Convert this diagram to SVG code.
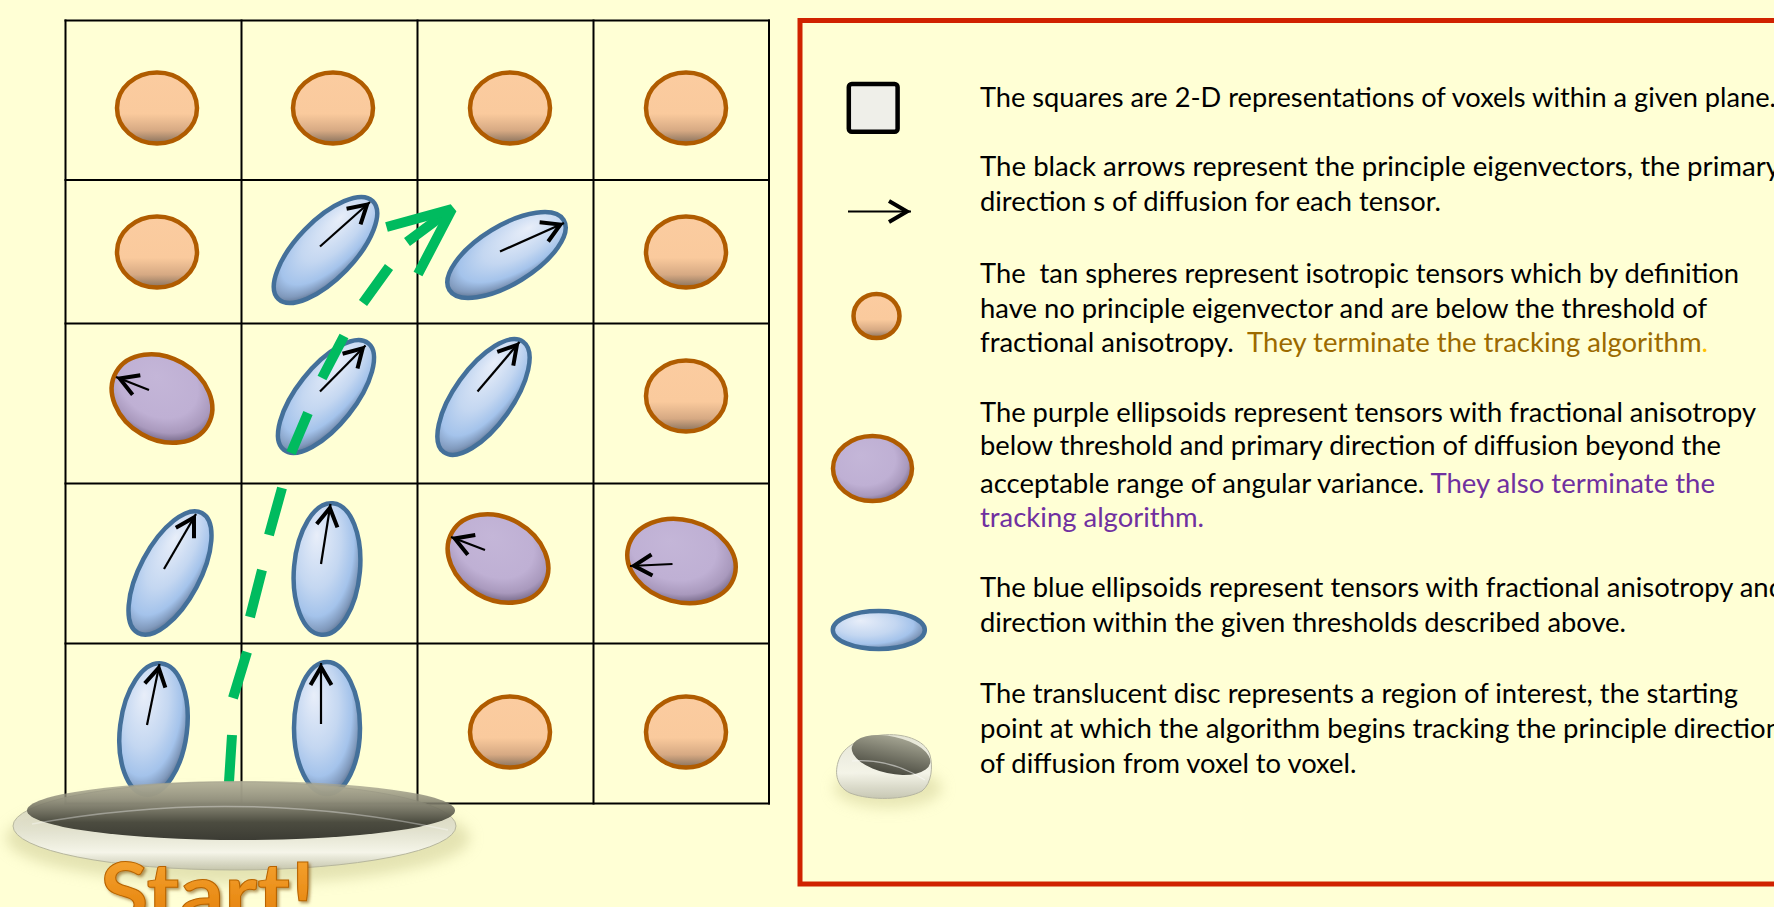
<svg xmlns="http://www.w3.org/2000/svg" width="1774" height="907" viewBox="0 0 1774 907">
  <defs>
    <style>
      .grid line { stroke: #000; stroke-width: 2; }
      .tan { fill: url(#gTan); stroke: #B05C00; stroke-width: 4.5; }
      .pur { fill: url(#gPur); stroke: #B05C00; stroke-width: 4.5; }
      .blu { fill: url(#gBlu); stroke: #44709A; stroke-width: 4.5; }
      .vec { stroke: #000; stroke-width: 2.2; fill: none; marker-end: url(#head); }
      .trk { fill: none; stroke: #00BB5F; stroke-width: 10; stroke-linecap: butt; }
      .txt { font-family: Lato, "Liberation Sans", sans-serif; font-size: 27px; fill: #000; }
      .gold { fill: #9C6A00; }
      .purple { fill: #7030A0; }
    </style>
    <linearGradient id="gTan" x1="0" y1="0" x2="0" y2="1">
      <stop offset="0" stop-color="#FBCCA0"/>
      <stop offset="0.58" stop-color="#FACA9D"/>
      <stop offset="0.82" stop-color="#D6A983"/>
      <stop offset="1" stop-color="#86705C"/>
    </linearGradient>
    <radialGradient id="gBlu" cx="0.4" cy="0.4" r="0.66" fx="0.3" fy="0.25">
      <stop offset="0" stop-color="#E8EEF9"/>
      <stop offset="0.5" stop-color="#C4D7F1"/>
      <stop offset="0.76" stop-color="#A4C3EB"/>
      <stop offset="0.9" stop-color="#8099BC"/>
      <stop offset="1" stop-color="#566A86"/>
    </radialGradient>
    <radialGradient id="gPur" cx="0.42" cy="0.4" r="0.64" fx="0.35" fy="0.3">
      <stop offset="0" stop-color="#C4B6D8"/>
      <stop offset="0.62" stop-color="#BFB0D4"/>
      <stop offset="0.84" stop-color="#A999BD"/>
      <stop offset="1" stop-color="#6F6280"/>
    </radialGradient>
    <linearGradient id="gRim" x1="0" y1="0" x2="0" y2="1">
      <stop offset="0" stop-color="#C8C6A8" stop-opacity="0.8"/>
      <stop offset="0.55" stop-color="#E2E2D0"/>
      <stop offset="0.8" stop-color="#F6F6EC"/>
      <stop offset="1" stop-color="#C4C4AC"/>
    </linearGradient>
    <linearGradient id="gTop" x1="0" y1="0" x2="0" y2="1">
      <stop offset="0" stop-color="#ABA892" stop-opacity="0.72"/>
      <stop offset="0.3" stop-color="#8C8A78" stop-opacity="0.85"/>
      <stop offset="0.7" stop-color="#4C4C40"/>
      <stop offset="1" stop-color="#3C3C34"/>
    </linearGradient>
    <linearGradient id="gStart" x1="0" y1="0" x2="0" y2="1">
      <stop offset="0" stop-color="#F8AA38"/>
      <stop offset="1" stop-color="#E07800"/>
    </linearGradient>
    <linearGradient id="gPuck" x1="0" y1="0" x2="0" y2="1">
      <stop offset="0" stop-color="#E4E4D6"/>
      <stop offset="0.6" stop-color="#F4F4EA"/>
      <stop offset="1" stop-color="#C6C6B4"/>
    </linearGradient>
    <linearGradient id="gPuckTop" x1="0" y1="0" x2="0" y2="1">
      <stop offset="0" stop-color="#A2A290"/>
      <stop offset="1" stop-color="#4A4A40"/>
    </linearGradient>
    <filter id="soft" x="-20%" y="-50%" width="140%" height="200%">
      <feGaussianBlur stdDeviation="7"/>
    </filter>
    <filter id="shade" x="-10%" y="-10%" width="130%" height="130%">
      <feDropShadow dx="2" dy="2" stdDeviation="1.5" flood-color="#7A4A00" flood-opacity="0.55"/>
    </filter>
    <marker id="head" viewBox="0 0 28 24" markerWidth="28" markerHeight="24" refX="25" refY="12" orient="auto" markerUnits="userSpaceOnUse" style="overflow:visible">
      <path d="M3,1.5 L21,12 L3,22.5" fill="none" stroke="#000" stroke-width="4"/>
    </marker>
  </defs>

  <rect width="1774" height="907" fill="#FFFFD5"/>

  <!-- voxel grid -->
  <g id="grid" class="grid">
    <line x1="65.5" y1="19.5" x2="65.5" y2="804.5"/>
    <line x1="241.5" y1="19.5" x2="241.5" y2="804.5"/>
    <line x1="417.5" y1="19.5" x2="417.5" y2="804.5"/>
    <line x1="593.5" y1="19.5" x2="593.5" y2="804.5"/>
    <line x1="769" y1="19.5" x2="769" y2="804.5"/>
    <line x1="64.5" y1="20.5" x2="770" y2="20.5"/>
    <line x1="64.5" y1="180" x2="770" y2="180"/>
    <line x1="64.5" y1="323.5" x2="770" y2="323.5"/>
    <line x1="64.5" y1="483.5" x2="770" y2="483.5"/>
    <line x1="64.5" y1="643.5" x2="770" y2="643.5"/>
    <line x1="64.5" y1="803.5" x2="770" y2="803.5"/>
  </g>

  <!-- row 1 -->
  <g id="r1c1"><ellipse class="tan" cx="157" cy="108" rx="40" ry="35.5"/></g>
  <g id="r1c2"><ellipse class="tan" cx="333" cy="108" rx="40" ry="35.5"/></g>
  <g id="r1c3"><ellipse class="tan" cx="510" cy="108" rx="40" ry="35.5"/></g>
  <g id="r1c4"><ellipse class="tan" cx="686" cy="108" rx="40" ry="35.5"/></g>

  <!-- row 2 -->
  <g id="r2c1"><ellipse class="tan" cx="157" cy="252" rx="40" ry="35.5"/></g>
  <g id="r2c2">
    <ellipse class="blu" cx="0" cy="0" rx="29" ry="68" transform="translate(325.5 250) rotate(44)"/>
    <line class="vec" x1="320" y1="246.5" x2="370" y2="202"/>
  </g>
  <g id="r2c3">
    <ellipse class="blu" cx="0" cy="0" rx="29" ry="67" transform="translate(506.5 255) rotate(58.5)"/>
    <line class="vec" x1="500" y1="251.5" x2="564" y2="223"/>
  </g>
  <g id="r2c4"><ellipse class="tan" cx="686" cy="252" rx="40" ry="35.5"/></g>

  <!-- row 3 -->
  <g id="r3c1">
    <ellipse class="pur" cx="0" cy="0" rx="53" ry="41" transform="translate(162 398.5) rotate(30)"/>
    <line class="vec" x1="149" y1="390" x2="116" y2="377"/>
  </g>
  <g id="r3c2">
    <ellipse class="blu" cx="0" cy="0" rx="29" ry="68" transform="translate(326 396.5) rotate(38.4)"/>
    <line class="vec" x1="320" y1="391.5" x2="365.5" y2="345.5"/>
  </g>
  <g id="r3c3">
    <ellipse class="blu" cx="0" cy="0" rx="29" ry="68" transform="translate(483.5 397) rotate(35.6)"/>
    <line class="vec" x1="477.5" y1="391.5" x2="519.5" y2="342"/>
  </g>
  <g id="r3c4"><ellipse class="tan" cx="686" cy="396" rx="40" ry="35.5"/></g>

  <!-- row 4 -->
  <g id="r4c1">
    <ellipse class="blu" cx="0" cy="0" rx="30" ry="68" transform="translate(170 573) rotate(28)"/>
    <line class="vec" x1="164" y1="569" x2="196" y2="514"/>
  </g>
  <g id="r4c2">
    <ellipse class="blu" cx="0" cy="0" rx="33" ry="66" transform="translate(327 569) rotate(5)"/>
    <line class="vec" x1="321" y1="564" x2="330.5" y2="504"/>
  </g>
  <g id="r4c3">
    <ellipse class="pur" cx="0" cy="0" rx="53" ry="41" transform="translate(498 558.5) rotate(30)"/>
    <line class="vec" x1="485" y1="550" x2="451" y2="537"/>
  </g>
  <g id="r4c4">
    <ellipse class="pur" cx="0" cy="0" rx="55" ry="41" transform="translate(681.5 561) rotate(15)"/>
    <line class="vec" x1="672.5" y1="564" x2="630" y2="566"/>
  </g>

  <!-- row 5 -->
  <g id="r5c1">
    <ellipse class="blu" cx="0" cy="0" rx="33.5" ry="66" transform="translate(153.5 729) rotate(7)"/>
    <line class="vec" x1="147" y1="725" x2="159.5" y2="664"/>
  </g>
  <g id="r5c2">
    <ellipse class="blu" cx="327" cy="728" rx="33" ry="66"/>
    <line class="vec" x1="321" y1="724" x2="321" y2="663"/>
  </g>
  <g id="r5c3"><ellipse class="tan" cx="510" cy="732" rx="40" ry="35.5"/></g>
  <g id="r5c4"><ellipse class="tan" cx="686" cy="732" rx="40" ry="35.5"/></g>

  <!-- tracking path -->
  <g id="connectors">
    <path class="trk" d="M229,782 L232,735 M233,698 L247,652 M250,617 L262,570 M269,535 L282,488 M291,453 L308,413 M322,378 L344,336 M363,303 L389,267 M407,242 L446,213"/>
    <path class="trk" d="M386.5,227 L452,209 L418,274" stroke-linejoin="bevel"/>
  </g>

  <!-- start disc -->
  <g id="start">
    <ellipse cx="238" cy="838" rx="232" ry="46" fill="#C9C78F" opacity="0.5" filter="url(#soft)"/>
    <ellipse cx="234.5" cy="826" rx="221.5" ry="44" fill="url(#gRim)" stroke="#B4B49C" stroke-width="1" opacity="0.95"/>
    <ellipse cx="241" cy="810.5" rx="214" ry="29.5" fill="url(#gTop)"/>
    <path d="M32,824 Q240,786 448,830" fill="none" stroke="#FFFFFF" stroke-opacity="0.35" stroke-width="1.5"/>
    <text x="100" y="922" font-family="Lato, 'Liberation Sans', sans-serif" font-weight="700" font-size="82" textLength="215" lengthAdjust="spacingAndGlyphs" fill="url(#gStart)" stroke="#B86400" stroke-width="1" filter="url(#shade)">Start!</text>
  </g>

  <!-- legend -->
  <g id="legend">
    <rect x="800" y="20.5" width="1000" height="863.5" fill="none" stroke="#D02200" stroke-width="5"/>

    <g id="key-square">
      <rect x="848.8" y="84" width="48.8" height="47.8" rx="3" fill="#EFEFE9" stroke="#000" stroke-width="4.5"/>
      <text class="txt" x="980" y="107" textLength="796" lengthAdjust="spacingAndGlyphs">The squares are 2-D representations of voxels within a given plane.</text>
    </g>

    <g id="key-arrow">
      <line class="vec" x1="848" y1="211.5" x2="911" y2="211.5"/>
      <text class="txt" x="980" y="176" textLength="800" lengthAdjust="spacingAndGlyphs">The black arrows represent the principle eigenvectors, the primary</text>
      <text class="txt" x="980" y="211" textLength="461" lengthAdjust="spacingAndGlyphs">direction s of diffusion for each tensor.</text>
    </g>

    <g id="key-tan">
      <ellipse class="tan" cx="876.5" cy="316" rx="23" ry="22" stroke-width="4"/>
      <text class="txt" x="980" y="283" textLength="759" lengthAdjust="spacingAndGlyphs" xml:space="preserve">The  tan spheres represent isotropic tensors which by definition</text>
      <text class="txt" x="980" y="318" textLength="727" lengthAdjust="spacingAndGlyphs">have no principle eigenvector and are below the threshold of</text>
      <text class="txt" x="980" y="352" textLength="728" lengthAdjust="spacingAndGlyphs" xml:space="preserve">fractional anisotropy.  <tspan class="gold">They terminate the tracking algorithm</tspan><tspan fill="#FFC000">.</tspan></text>
    </g>

    <g id="key-purple">
      <ellipse class="pur" cx="872.5" cy="468.5" rx="39.5" ry="32.5" stroke-width="4"/>
      <text class="txt" x="980" y="422" textLength="776" lengthAdjust="spacingAndGlyphs">The purple ellipsoids represent tensors with fractional anisotropy</text>
      <text class="txt" x="980" y="455" textLength="741" lengthAdjust="spacingAndGlyphs">below threshold and primary direction of diffusion beyond the</text>
      <text class="txt" x="980" y="493" textLength="735" lengthAdjust="spacingAndGlyphs">acceptable range of angular variance. <tspan class="purple">They also terminate the</tspan></text>
      <text class="txt purple" x="980" y="527" textLength="224" lengthAdjust="spacingAndGlyphs">tracking algorithm.</text>
    </g>

    <g id="key-blue">
      <ellipse class="blu" cx="878.8" cy="630" rx="46" ry="19"/>
      <text class="txt" x="980" y="597" textLength="804" lengthAdjust="spacingAndGlyphs">The blue ellipsoids represent tensors with fractional anisotropy and</text>
      <text class="txt" x="980" y="632" textLength="646" lengthAdjust="spacingAndGlyphs">direction within the given thresholds described above.</text>
    </g>

    <g id="key-disc">
      <ellipse cx="888" cy="788" rx="54" ry="20" fill="#D4D29A" opacity="0.55" filter="url(#soft)"/>
      <path d="M840,757 C834,770 835,786 850,793 C870,801 906,800 922,791 C932,783 933,766 930,755 C925,739 902,733 882,735 C862,737 846,745 840,757 Z" fill="url(#gPuck)" stroke="#B2B2A0" stroke-width="1" opacity="0.95"/>
      <ellipse cx="0" cy="0" rx="40" ry="18.5" transform="translate(891 755) rotate(12)" fill="url(#gPuckTop)"/>
      <path d="M852,761 Q890,758 925,780" fill="none" stroke="#FFFFFF" stroke-opacity="0.5" stroke-width="1.2"/>
      <text class="txt" x="980" y="703" textLength="758" lengthAdjust="spacingAndGlyphs">The translucent disc represents a region of interest, the starting</text>
      <text class="txt" x="980" y="738" textLength="801" lengthAdjust="spacingAndGlyphs">point at which the algorithm begins tracking the principle direction</text>
      <text class="txt" x="980" y="773" textLength="376.5" lengthAdjust="spacingAndGlyphs">of diffusion from voxel to voxel.</text>
    </g>
  </g>
</svg>
